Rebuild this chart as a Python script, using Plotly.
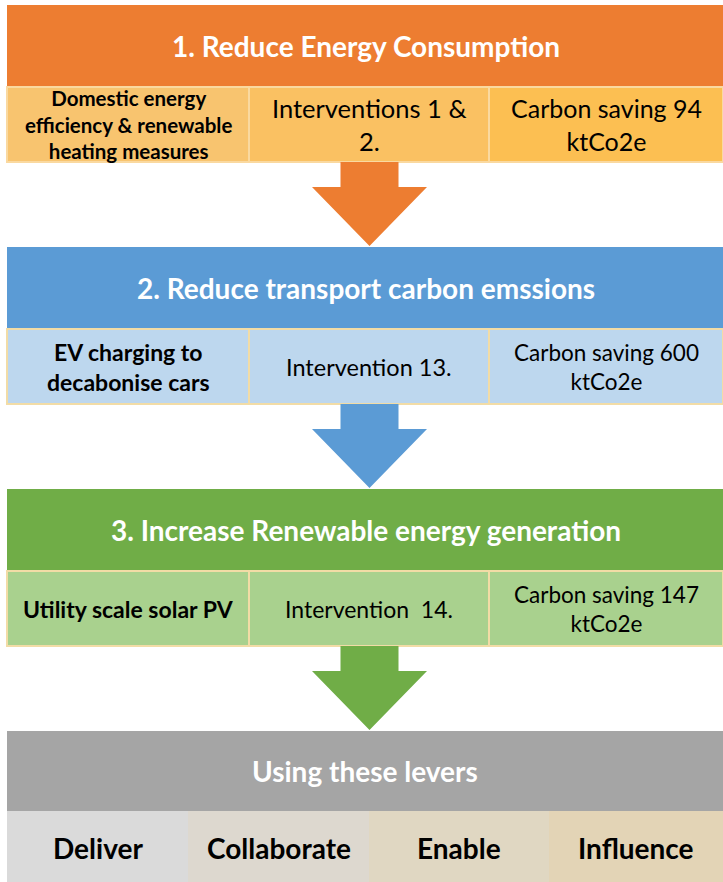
import plotly.graph_objects as go

# ---- content ----
stage_titles = ["1. Reduce Energy Consumption",
                "2. Reduce transport carbon emssions",
                "3. Increase Renewable energy generation"]
measures = ["Domestic energy<br>efficiency & renewable<br>heating measures",
            "EV charging to<br>decabonise cars",
            "Utility scale solar PV"]
interventions = ["Interventions 1 &<br>2.", "Intervention 13.", "Intervention  14."]
savings_kt = [94, 600, 147]
lever_title = "Using these levers"
levers = ["Deliver", "Collaborate", "Enable", "Influence"]

# ---- styles ----
header_colors = ["#ED7D31", "#5B9BD5", "#70AD47"]
cell_colors = [["#F8C46F", "#FAC162", "#FCBF52"],
               ["#BDD7EE", "#BDD7EE", "#BDD7EE"],
               ["#A9D18E", "#A9D18E", "#A9D18E"]]
cell_line = ["#FAD9A0", "#F2DCA6", "#F2DCA6"]
lever_colors = ["#DADADA", "#DDD8CF", "#E0D7C2", "#E3D4B6"]
FONT = "Lato"

# layout geometry (pixels)
W, H = 723, 882
x0 = 7
col_edges = [x0, 249, 489, W]
stage_tops = [5, 247, 489]
header_h = 82
row_h = 75
arrow_cx = 369.5
lever_top = 731
lever_split = 811
lever_edges = [x0, 188, 369, 549, W]

shapes, ann = [], []

def rect(xa, xb, ya, yb, fill, line=None, lw=0):
    shapes.append(dict(type="rect", xref="x", yref="y", x0=xa, x1=xb, y0=ya, y1=yb,
                       fillcolor=fill, line=dict(color=line or fill, width=lw), layer="below"))

def text(x, y, s, size, color="black", bold=False):
    ann.append(dict(x=x, y=y, xref="x", yref="y", text=(f"<b>{s}</b>" if bold else s),
                    showarrow=False, font=dict(family=FONT, size=size, color=color),
                    align="center", xanchor="center", yanchor="middle"))

def arrow(top, bottom, color):
    stem_w, head_w = 29, 57.5
    neck = top + 25
    path = (f"M {arrow_cx-stem_w},{top} L {arrow_cx+stem_w},{top} L {arrow_cx+stem_w},{neck} "
            f"L {arrow_cx+head_w},{neck} L {arrow_cx},{bottom} L {arrow_cx-head_w},{neck} "
            f"L {arrow_cx-stem_w},{neck} Z")
    shapes.append(dict(type="path", xref="x", yref="y", path=path, fillcolor=color,
                       line=dict(width=0)))

meas_sizes = [20.5, 23, 23]
int_sizes = [25.5, 23.5, 23]
sav_sizes = [25, 22.5, 22.5]
for i in range(3):
    top = stage_tops[i]
    rect(x0, W, top, top + header_h, header_colors[i])
    text((x0 + W) / 2 + 1, top + header_h / 2, stage_titles[i], 28, "white", True)
    rt, rb = top + header_h, top + header_h + row_h
    for j in range(3):
        rect(col_edges[j], col_edges[j + 1], rt, rb, cell_colors[i][j], cell_line[i], 2)
    cy = (rt + rb) / 2
    text((col_edges[0] + col_edges[1]) / 2, cy, measures[i], meas_sizes[i], bold=True)
    text((col_edges[1] + col_edges[2]) / 2, cy, interventions[i], int_sizes[i])
    text((col_edges[2] + col_edges[3]) / 2, cy, f"Carbon saving {savings_kt[i]}<br>ktCo2e", sav_sizes[i])
    arrow(rb, (stage_tops[i + 1] if i < 2 else lever_top) - 1, header_colors[i])

rect(x0, W, lever_top, lever_split, "#A5A5A5")
text((x0 + W) / 2, (lever_top + lever_split) / 2, lever_title, 28, "white", True)
for k, lv in enumerate(levers):
    rect(lever_edges[k], lever_edges[k + 1], lever_split, H, lever_colors[k])
    text((lever_edges[k] + lever_edges[k + 1]) / 2, (lever_split + H) / 2 + 1, lv, 28, bold=True)

fig = go.Figure()
fig.update_layout(width=W, height=H, margin=dict(l=0, r=0, t=0, b=0),
                  paper_bgcolor="white", plot_bgcolor="white",
                  xaxis=dict(range=[0, W], visible=False, fixedrange=True),
                  yaxis=dict(range=[H, 0], visible=False, fixedrange=True),
                  shapes=shapes, annotations=ann, showlegend=False)
fig.write_html("out.html", config={"displayModeBar": False},
               post_script="document.body.style.margin='0';document.body.style.overflow='hidden';")
